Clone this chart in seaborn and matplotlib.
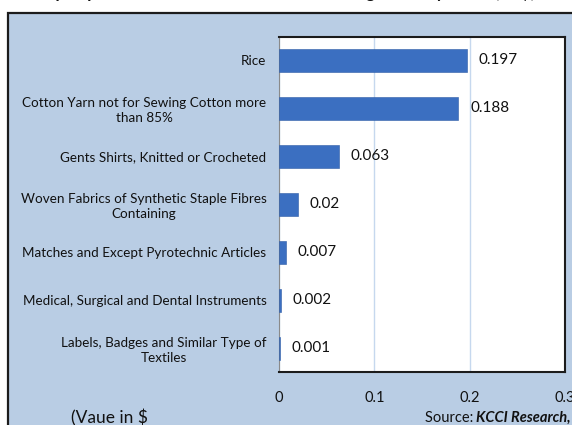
import matplotlib
matplotlib.use("Agg")
import matplotlib.pyplot as plt
import matplotlib.patches as mpatches
import seaborn as sns
import pandas as pd

categories = [
    "Rice",
    "Cotton Yarn not for Sewing Cotton more\nthan 85%",
    "Gents Shirts, Knitted or Crocheted",
    "Woven Fabrics of Synthetic Staple Fibres\nContaining",
    "Matches and Except Pyrotechnic Articles",
    "Medical, Surgical and Dental Instruments",
    "Labels, Badges and Similar Type of\nTextiles",
]
values = [0.197, 0.188, 0.063, 0.02, 0.007, 0.002, 0.001]
x_ticks = [0, 0.1, 0.2, 0.3]
x_tick_labels = ["0", "0.1", "0.2", "0.3"]

df = pd.DataFrame({"product": categories, "value": values})

sns.set_theme(style="white")
plt.rcParams["font.family"] = ["Lato", "DejaVu Sans"]

W, H = 572, 425
fig = plt.figure(figsize=(W / 100, H / 100), dpi=100)
fig.patch.set_facecolor("white")

# panel background with dark frame
panel = mpatches.Rectangle((8 / W, -0.1), 1.0, 1.1 - 13 / H,
                           transform=fig.transFigure, facecolor="#b9cde4",
                           edgecolor="#1c1c1c", linewidth=1.6, zorder=-5)
fig.patches.append(panel)

# heading sitting above the panel
fig.text(0.5, 1 + 2 / H, "Top Exported Products from Pakistan to Bangladesh by Value (US$)",
         ha="center", va="baseline", fontsize=12, fontweight="bold", color="#111111")

ax = fig.add_axes([279 / W, 1 - 372 / H, 286 / W, (372 - 36.5) / H])
ax.set_zorder(2)
ax.set_facecolor("white")

sns.barplot(data=df, x="value", y="product", orient="h", color="#3b6fc1",
            width=0.48, saturation=1, ax=ax, zorder=3, edgecolor="#2f5da6", linewidth=0.4)

ax.set_xlim(0, 0.3)
ax.set_ylim(6.5, -0.5)
ax.set_xticks(x_ticks)
ax.set_xticklabels(x_tick_labels)
ax.set_xlabel("")
ax.set_ylabel("")
ax.xaxis.grid(True, color="#c6d8ee", linewidth=1.0, zorder=0)
ax.yaxis.grid(False)

ax.tick_params(axis="x", length=0, pad=14, labelsize=10.5, labelcolor="#111111")
ax.tick_params(axis="y", length=0, pad=9, labelsize=9.7, labelcolor="#111111")
for t in ax.get_yticklabels():
    t.set_multialignment("center")
    t.set_linespacing(1.25)

for side in ["top", "right", "bottom"]:
    ax.spines[side].set_color("#1c1c1c")
    ax.spines[side].set_linewidth(1.5)
ax.spines["left"].set_color("#8a8a8a")
ax.spines["left"].set_linewidth(0.8)

ax.bar_label(ax.containers[0], labels=[f"{v:g}" for v in values],
             padding=8.5, fontsize=11, color="#111111")

fig.text(71 / W, 1 - 418 / H, "(Vaue in $", ha="left", va="center",
         fontsize=12.5, color="#111111")
fig.text(425 / W, 1 - 418 / H, "Source: ", ha="left", va="center",
         fontsize=10.5, color="#111111")
fig.text(476 / W, 1 - 418 / H, "KCCI Research,", ha="left", va="center",
         fontsize=10.5, color="#111111", fontweight="bold", fontstyle="italic")

fig.savefig("out.png", dpi=100)
